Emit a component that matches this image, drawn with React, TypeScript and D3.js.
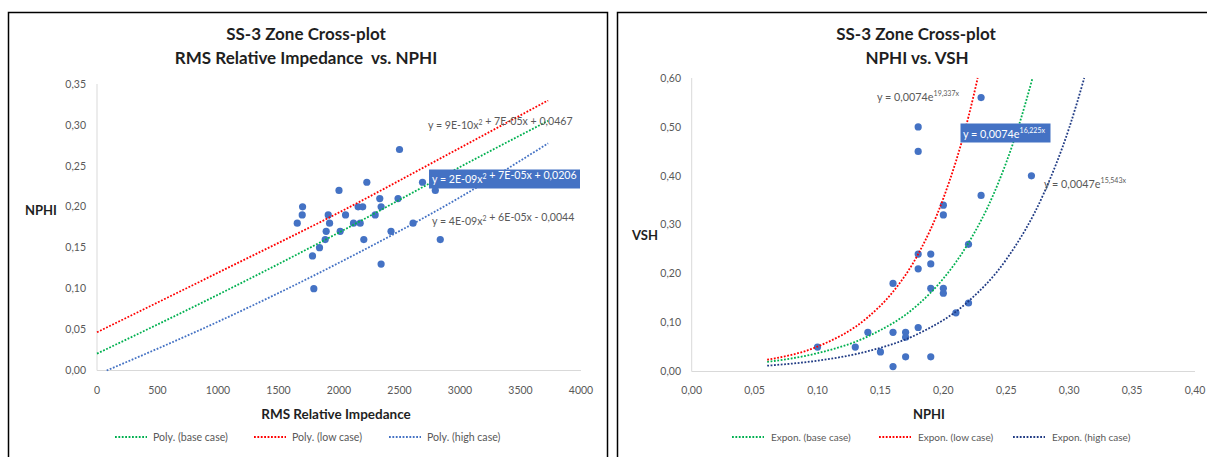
import * as d3 from "d3";
import React from "react";

// ---- left chart data: RMS Relative Impedance vs. NPHI ----
const impedance: number[] = [
  2500, 2230, 2000, 2690, 2796, 2337, 2488, 2158, 2196, 2348, 1699, 1696, 1911, 2054, 2299,
  1655, 1922, 2120, 2175, 2612, 1894, 2010, 2430, 1886, 2205, 2837, 1839, 1781, 2348, 1792,
];
const nphiLeft: number[] = [
  0.27, 0.23, 0.22, 0.23, 0.22, 0.21, 0.21, 0.2, 0.2, 0.2, 0.2, 0.19, 0.19, 0.19, 0.19,
  0.18, 0.18, 0.18, 0.18, 0.18, 0.17, 0.17, 0.17, 0.16, 0.16, 0.16, 0.15, 0.14, 0.13, 0.1,
];
// trend lines
const polyLowX: number[] = [0, 1000, 2000, 3000, 3728];
const polyLowY: number[] = [0.0467, 0.1195, 0.193, 0.272, 0.33];
const polyBaseX: number[] = [0, 1000, 2000, 3000, 3728];
const polyBaseY: number[] = [0.0206, 0.0926, 0.1686, 0.2486, 0.305];
const polyHighX: number[] = [80, 1000, 2000, 3000, 3728];
const polyHighY: number[] = [0, 0.0596, 0.1316, 0.2116, 0.2775];
const legendLeft: string[] = ["Poly. (base case)", "Poly. (low case)", "Poly. (high case)"];

// ---- right chart data: NPHI vs. VSH ----
const nphiRight: number[] = [
  0.1, 0.13, 0.14, 0.15, 0.16, 0.16, 0.16, 0.17, 0.17, 0.17, 0.23, 0.18, 0.18, 0.27, 0.23,
  0.2, 0.2, 0.22, 0.18, 0.19, 0.18, 0.19, 0.19, 0.2, 0.2, 0.22, 0.21, 0.18, 0.19,
];
const vsh: number[] = [
  0.05, 0.05, 0.08, 0.04, 0.18, 0.08, 0.01, 0.08, 0.07, 0.03, 0.56, 0.5, 0.45, 0.4, 0.36,
  0.34, 0.32, 0.26, 0.24, 0.24, 0.21, 0.22, 0.17, 0.17, 0.16, 0.14, 0.12, 0.09, 0.03,
];
const expLowX: number[] = [0.06, 0.1, 0.14, 0.16, 0.18, 0.2, 0.22, 0.2273];
const expLowY: number[] = [0.024, 0.051, 0.111, 0.163, 0.24, 0.354, 0.521, 0.6];
const expBaseX: number[] = [0.06, 0.1, 0.14, 0.18, 0.2, 0.22, 0.24, 0.26, 0.2709];
const expBaseY: number[] = [0.0196, 0.0375, 0.0717, 0.137, 0.19, 0.263, 0.363, 0.503, 0.6];
const expHighX: number[] = [0.06, 0.1, 0.14, 0.18, 0.22, 0.25, 0.28, 0.3, 0.312];
const expHighY: number[] = [0.0119, 0.0222, 0.0414, 0.0771, 0.1436, 0.229, 0.365, 0.498, 0.6];
const legendRight: string[] = ["Expon. (base case)", "Expon. (low case)", "Expon. (high case)"];

const FONT = "Lato, 'Open Sans', sans-serif";
const DOT = "#4472C4";
const GREEN = "#00B050";
const RED = "#FF0000";
const BLUE_L = "#4472C4";
const NAVY = "#203B84";
const GRAY = "#595959";
const AXIS = "#D9D9D9";
const TITLE = "#1F1F1F";

const fmt = (d: number) => d3.format(".2f")(d).replace(".", ",");

const pairs = (xs: number[], ys: number[]) => xs.map((x, i) => [x, ys[i]] as [number, number]);

function Superscript({ base, sup, dy = -5 }: { base: string; sup: string; dy?: number }) {
  return (
    <>
      {base}
      <tspan fontSize="0.65em" dy={dy}>{sup}</tspan>
    </>
  );
}

export default function App() {
  // left scales
  const xL = d3.scaleLinear().domain([0, 4000]).range([97, 581]);
  const yL = d3.scaleLinear().domain([0, 0.35]).range([370.5, 84]);
  // right scales
  const xR = d3.scaleLinear().domain([0, 0.4]).range([691.7, 1195]);
  const yR = d3.scaleLinear().domain([0, 0.6]).range([371.5, 78]);

  const lineL = d3
    .line<[number, number]>()
    .x((d) => xL(d[0]))
    .y((d) => yL(d[1]))
    .curve(d3.curveMonotoneX);
  const lineR = d3
    .line<[number, number]>()
    .x((d) => xR(d[0]))
    .y((d) => yR(d[1]))
    .curve(d3.curveMonotoneX);

  const dash = "1.8 1.6";

  return (
    <svg
      width={1207}
      height={457}
      style={{ position: "fixed", left: 0, top: 0, background: "#fff" }}
      fontFamily={FONT}
    >
      <rect x={0} y={0} width={1207} height={457} fill="#fff" />
      {/* panel borders */}
      <rect x={8.5} y={12.5} width={599} height={470} fill="none" stroke="#000" strokeWidth={1.5} />
      <rect x={617.5} y={12.5} width={600} height={470} fill="none" stroke="#000" strokeWidth={1.5} />

      {/* ===== LEFT CHART ===== */}
      <text x={306} y={40} textAnchor="middle" fontSize={17} fontWeight="bold" fill={TITLE}>
        SS-3 Zone Cross-plot
      </text>
      <text x={306} y={63.5} textAnchor="middle" fontSize={17} fontWeight="bold" fill={TITLE} xmlSpace="preserve">
        RMS Relative Impedance  vs. NPHI
      </text>
      <line x1={97} x2={97} y1={84} y2={370.5} stroke={AXIS} />
      <line x1={97} x2={581} y1={370.5} y2={370.5} stroke={AXIS} />
      {yL.ticks(7).map((t) => (
        <text key={t} x={86} y={yL(t)} dy="0.35em" textAnchor="end" fontSize={10.5} fill={GRAY}>
          {fmt(t)}
        </text>
      ))}
      {xL.ticks(8).map((t) => (
        <text key={t} x={xL(t)} y={390} dy="0.35em" textAnchor="middle" fontSize={10.5} fill={GRAY}>
          {t}
        </text>
      ))}
      <text x={41} y={210} dy="0.35em" textAnchor="middle" fontSize={13} fontWeight="bold" fill={TITLE}>
        NPHI
      </text>
      <text x={336} y={414} dy="0.35em" textAnchor="middle" fontSize={13.5} fontWeight="bold" fill={TITLE}>
        RMS Relative Impedance
      </text>
      {impedance.map((v, i) => (
        <circle key={i} cx={xL(v)} cy={yL(nphiLeft[i])} r={3.6} fill={DOT} />
      ))}
      <path d={lineL(pairs(polyLowX, polyLowY)) || ""} fill="none" stroke={RED} strokeWidth={1.8} strokeDasharray={dash} />
      <path d={lineL(pairs(polyBaseX, polyBaseY)) || ""} fill="none" stroke={GREEN} strokeWidth={1.8} strokeDasharray={dash} />
      <path d={lineL(pairs(polyHighX, polyHighY)) || ""} fill="none" stroke={BLUE_L} strokeWidth={1.8} strokeDasharray={dash} />
      {/* equations */}
      <text x={428} y={125} dy="0.35em" fontSize={10.6} fill={GRAY}>
        <Superscript base="y = 9E-10x" sup="2" dy={-4} /> + 7E-05x + 0,0467
      </text>
      <rect x={429} y={169.5} width={151} height={19} fill="#4472C4" />
      <text x={432} y={179.5} dy="0.35em" fontSize={10.6} fill="#fff">
        <Superscript base="y = 2E-09x" sup="2" dy={-4} /> + 7E-05x + 0,0206
      </text>
      <text x={432} y={221} dy="0.35em" fontSize={10.6} fill={GRAY}>
        <Superscript base="y = 4E-09x" sup="2" dy={-4} /> + 6E-05x - 0,0044
      </text>
      {/* legend */}
      {legendLeft.map((name, i) => {
        const lx = [115, 254, 389][i];
        const c = [GREEN, RED, BLUE_L][i];
        return (
          <g key={name}>
            <line x1={lx} x2={lx + 32} y1={437} y2={437} stroke={c} strokeWidth={1.8} strokeDasharray={dash} />
            <text x={lx + 38} y={437} dy="0.35em" fontSize={10.6} fill={GRAY}>
              {name}
            </text>
          </g>
        );
      })}

      {/* ===== RIGHT CHART ===== */}
      <text x={916} y={40} textAnchor="middle" fontSize={17} fontWeight="bold" fill={TITLE}>
        SS-3 Zone Cross-plot
      </text>
      <text x={917} y={63.5} textAnchor="middle" fontSize={17} fontWeight="bold" fill={TITLE}>
        NPHI vs. VSH
      </text>
      <line x1={691.7} x2={691.7} y1={78} y2={371.5} stroke={AXIS} />
      <line x1={691.7} x2={1195} y1={371.5} y2={371.5} stroke={AXIS} />
      {yR.ticks(6).map((t) => (
        <text key={t} x={681} y={yR(t)} dy="0.35em" textAnchor="end" fontSize={10.5} fill={GRAY}>
          {fmt(t)}
        </text>
      ))}
      {xR.ticks(8).map((t) => (
        <text key={t} x={xR(t)} y={390} dy="0.35em" textAnchor="middle" fontSize={10.5} fill={GRAY}>
          {fmt(t)}
        </text>
      ))}
      <text x={645} y={235} dy="0.35em" textAnchor="middle" fontSize={13} fontWeight="bold" fill={TITLE}>
        VSH
      </text>
      <text x={929} y={414} dy="0.35em" textAnchor="middle" fontSize={13} fontWeight="bold" fill={TITLE}>
        NPHI
      </text>
      {nphiRight.map((v, i) => (
        <circle key={i} cx={xR(v)} cy={yR(vsh[i])} r={3.6} fill={DOT} />
      ))}
      <path d={lineR(pairs(expLowX, expLowY)) || ""} fill="none" stroke={RED} strokeWidth={1.8} strokeDasharray={dash} />
      <path d={lineR(pairs(expBaseX, expBaseY)) || ""} fill="none" stroke={GREEN} strokeWidth={1.8} strokeDasharray={dash} />
      <path d={lineR(pairs(expHighX, expHighY)) || ""} fill="none" stroke={NAVY} strokeWidth={1.8} strokeDasharray={dash} />
      <text x={877} y={97} dy="0.35em" fontSize={10.8} fill={GRAY}>
        <Superscript base="y = 0,0074e" sup="19,337x" />
      </text>
      <rect x={960.5} y={123.5} width={90} height={19} fill="#4472C4" />
      <text x={963} y={134} dy="0.35em" fontSize={10.8} fill="#fff">
        <Superscript base="y = 0,0074e" sup="16,225x" />
      </text>
      <text x={1044} y={184} dy="0.35em" fontSize={10.8} fill={GRAY}>
        <Superscript base="y = 0,0047e" sup="15,543x" />
      </text>
      {legendRight.map((name, i) => {
        const lx = [732, 879, 1013][i];
        const c = [GREEN, RED, NAVY][i];
        return (
          <g key={name}>
            <line x1={lx} x2={lx + 32} y1={437} y2={437} stroke={c} strokeWidth={1.8} strokeDasharray={dash} />
            <text x={lx + 39} y={437} dy="0.35em" fontSize={10} fill={GRAY}>
              {name}
            </text>
          </g>
        );
      })}
    </svg>
  );
}
